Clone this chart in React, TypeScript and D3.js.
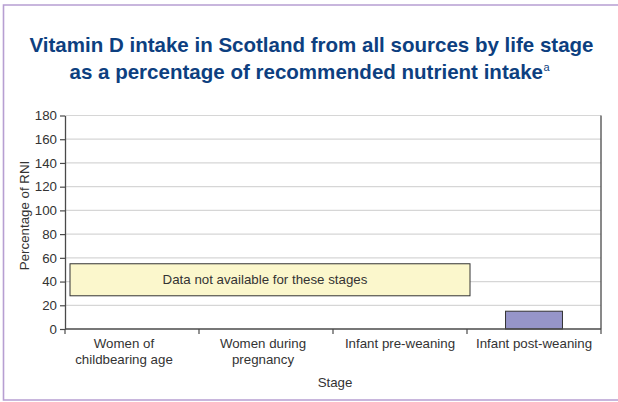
import { useEffect, useRef } from 'react'
import * as d3 from 'd3'

// Life stages on the x axis (each entry is one wrapped label)
const stages = ['Women of childbearing age', 'Women during pregnancy', 'Infant pre-weaning', 'Infant post-weaning']
const stageLines = [['Women of', 'childbearing age'], ['Women during', 'pregnancy'], ['Infant pre-weaning'], ['Infant post-weaning']]
// % of RNI, null where no data
const rniValues: (number | null)[] = [null, null, null, 15]
// band shown where data is missing
const unavailableStages = ['Women of childbearing age', 'Women during pregnancy', 'Infant pre-weaning']
const unavailableRange = [28, 55]
const yTicks = [0, 20, 40, 60, 80, 100, 120, 140, 160, 180]

const width = 618
const height = 402
const font = '"Liberation Sans", Arial, sans-serif'
const labelSize = '13.3px'

export default function App() {
  const svgRef = useRef<SVGSVGElement>(null)

  useEffect(() => {
    document.body.style.margin = '0'
    if (!svgRef.current) return
    const svg = d3.select(svgRef.current)
    svg.selectAll('*').remove()

    const margin = { top: 115.5, right: 17, bottom: 73, left: 65 }
    const x = d3
      .scaleBand<string>()
      .domain(stages)
      .range([margin.left, width - margin.right])
    const y = d3
      .scaleLinear()
      .domain([0, 180])
      .range([height - margin.bottom, margin.top])

    // outer frame (top, left, bottom)
    svg
      .append('path')
      .attr('d', `M${width},5 H3.5 V400 H${width}`)
      .attr('fill', 'none')
      .attr('stroke', '#b79fd2')
      .attr('stroke-width', 1.6)

    // title
    const title = svg
      .append('text')
      .attr('fill', '#0d3f80')
      .attr('font-family', font)
      .attr('font-size', '20.6px')
      .attr('font-weight', 'bold')
    title
      .append('tspan')
      .attr('x', 29.5)
      .attr('y', 52)
      .attr('textLength', 564)
      .attr('lengthAdjust', 'spacingAndGlyphs')
      .text('Vitamin D intake in Scotland from all sources by life stage')
    title
      .append('tspan')
      .attr('x', 69.5)
      .attr('y', 78.5)
      .attr('textLength', 473.5)
      .attr('lengthAdjust', 'spacingAndGlyphs')
      .text('as a percentage of recommended nutrient intake')
    title
      .append('tspan')
      .attr('x', 543.5)
      .attr('y', 71)
      .attr('font-size', '11px')
      .attr('font-weight', 'normal')
      .text('a')

    // gridlines
    svg
      .append('g')
      .selectAll('line')
      .data(yTicks.filter((d) => d > 0))
      .enter()
      .append('line')
      .attr('x1', margin.left)
      .attr('x2', width - margin.right)
      .attr('y1', (d) => y(d))
      .attr('y2', (d) => y(d))
      .attr('stroke', '#d6d6d6')
      .attr('stroke-width', 1.2)

    // "data not available" band
    const first = x(unavailableStages[0])!
    const last = x(unavailableStages[unavailableStages.length - 1])! + x.bandwidth()
    svg
      .append('rect')
      .attr('x', first + 5)
      .attr('y', y(unavailableRange[1]))
      .attr('width', last - first - 2)
      .attr('height', y(unavailableRange[0]) - y(unavailableRange[1]))
      .attr('fill', '#fbf7cc')
      .attr('stroke', '#333')
      .attr('stroke-width', 1)
    svg
      .append('text')
      .attr('x', (first + last) / 2 - 1)
      .attr('y', (y(unavailableRange[0]) + y(unavailableRange[1])) / 2 + 4.5)
      .attr('text-anchor', 'middle')
      .attr('fill', '#333')
      .attr('font-family', font)
      .attr('font-size', labelSize)
      .text('Data not available for these stages')

    // bars
    const barW = x.bandwidth() * 0.425
    svg
      .append('g')
      .selectAll('rect')
      .data(stages.filter((_, i) => rniValues[i] != null))
      .enter()
      .append('rect')
      .attr('x', (d) => x(d)! + (x.bandwidth() - barW) / 2)
      .attr('y', (d) => y(rniValues[stages.indexOf(d)]!))
      .attr('width', barW)
      .attr('height', (d) => y(0) - y(rniValues[stages.indexOf(d)]!))
      .attr('fill', '#9695c9')
      .attr('stroke', '#333')
      .attr('stroke-width', 1)

    // y axis
    const yAxis = svg
      .append('g')
      .attr('transform', `translate(${margin.left},0)`)
      .call(d3.axisLeft(y).tickValues(yTicks).tickSize(5).tickPadding(3).tickSizeOuter(0))
    yAxis.select('.domain').attr('stroke', '#4a4a4a').attr('stroke-width', 1.3)
    yAxis.selectAll('.tick line').attr('stroke', '#4a4a4a').attr('stroke-width', 1.2)
    yAxis
      .selectAll('.tick text')
      .attr('fill', '#333')
      .attr('font-family', font)
      .attr('font-size', labelSize)

    // x axis
    const xAxisY = y(0)
    svg
      .append('line')
      .attr('x1', margin.left)
      .attr('x2', width - margin.right)
      .attr('y1', xAxisY)
      .attr('y2', xAxisY)
      .attr('stroke', '#4a4a4a')
      .attr('stroke-width', 1.3)
    const bounds = [...stages.map((s) => x(s)!), width - margin.right]
    svg
      .append('g')
      .selectAll('line')
      .data(bounds)
      .enter()
      .append('line')
      .attr('x1', (d) => d)
      .attr('x2', (d) => d)
      .attr('y1', xAxisY)
      .attr('y2', xAxisY + 5)
      .attr('stroke', '#4a4a4a')
      .attr('stroke-width', 1.2)
    // right edge of plot area
    svg
      .append('line')
      .attr('x1', width - margin.right)
      .attr('x2', width - margin.right)
      .attr('y1', margin.top)
      .attr('y2', xAxisY)
      .attr('stroke', '#4a4a4a')
      .attr('stroke-width', 1.3)

    // category labels
    const offsets = [-8, -3, 0, 0]
    const labels = svg
      .append('g')
      .selectAll('text')
      .data(stages)
      .enter()
      .append('text')
      .attr('text-anchor', 'middle')
      .attr('fill', '#333')
      .attr('font-family', font)
      .attr('font-size', labelSize)
    labels.each(function (d, i) {
      const cx = x(d)! + x.bandwidth() / 2 + offsets[i]
      stageLines[i].forEach((line, j) => {
        d3.select(this)
          .append('tspan')
          .attr('x', cx)
          .attr('y', xAxisY + 19 + j * 16)
          .text(line)
      })
    })

    // axis titles
    svg
      .append('text')
      .attr('x', 335)
      .attr('y', 387)
      .attr('text-anchor', 'middle')
      .attr('fill', '#333')
      .attr('font-family', font)
      .attr('font-size', labelSize)
      .text('Stage')
    svg
      .append('text')
      .attr('transform', `translate(29,${215.5}) rotate(-90)`)
      .attr('text-anchor', 'middle')
      .attr('fill', '#333')
      .attr('font-family', font)
      .attr('font-size', labelSize)
      .text('Percentage of RNI')
  }, [])

  return <svg ref={svgRef} width={width} height={height} style={{ display: 'block' }} />
}
